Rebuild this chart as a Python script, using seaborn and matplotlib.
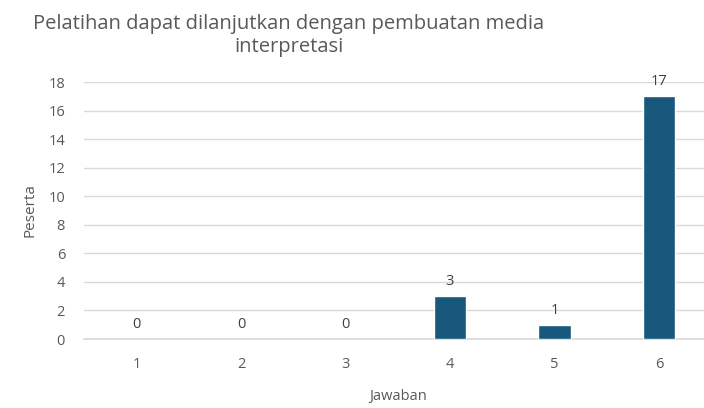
import matplotlib
matplotlib.use("Agg")
import matplotlib.pyplot as plt
import seaborn as sns
import pandas as pd

categories = ["1", "2", "3", "4", "5", "6"]
values = [0, 0, 0, 3, 1, 17]
yticks = [0, 2, 4, 6, 8, 10, 12, 14, 16, 18]

sns.set_theme(style="white")
plt.rcParams['font.family'] = ['Open Sans', 'DejaVu Sans']

df = pd.DataFrame({"Jawaban": categories, "Peserta": values})

fig = plt.figure(figsize=(7.04, 4.08), dpi=100)
ax = fig.add_axes([0.12, 0.169, 0.89, 0.630])
sns.barplot(data=df, x="Jawaban", y="Peserta", color="#17587C", width=0.31,
            saturation=1, ax=ax, zorder=3)

ax.set_ylim(0, 18)
ax.set_yticks(yticks)
ax.yaxis.grid(True, color="#D9D9D9", linewidth=1)
ax.set_axisbelow(True)
for s in ["top", "right", "left"]:
    ax.spines[s].set_visible(False)
ax.spines["bottom"].set_color("#D9D9D9")
ax.tick_params(axis="both", length=0, labelsize=10.5, colors="#595959")
ax.tick_params(axis="y", pad=14)
ax.tick_params(axis="x", pad=13)

for i, v in enumerate(values):
    ax.text(i, v + 0.5, str(v), ha="center", va="bottom", fontsize=10.5, color="#404040")

ax.set_xlabel("Jawaban", fontsize=10.5, color="#595959", labelpad=12)
ax.set_ylabel("Peserta", fontsize=11, color="#595959", labelpad=8)

fig.text(0.41, 0.965, "Pelatihan dapat dilanjutkan dengan pembuatan media\ninterpretasi",
         ha="center", va="top", fontsize=14.5, color="#595959", linespacing=1.2)

fig.savefig("out.png", dpi=100)
